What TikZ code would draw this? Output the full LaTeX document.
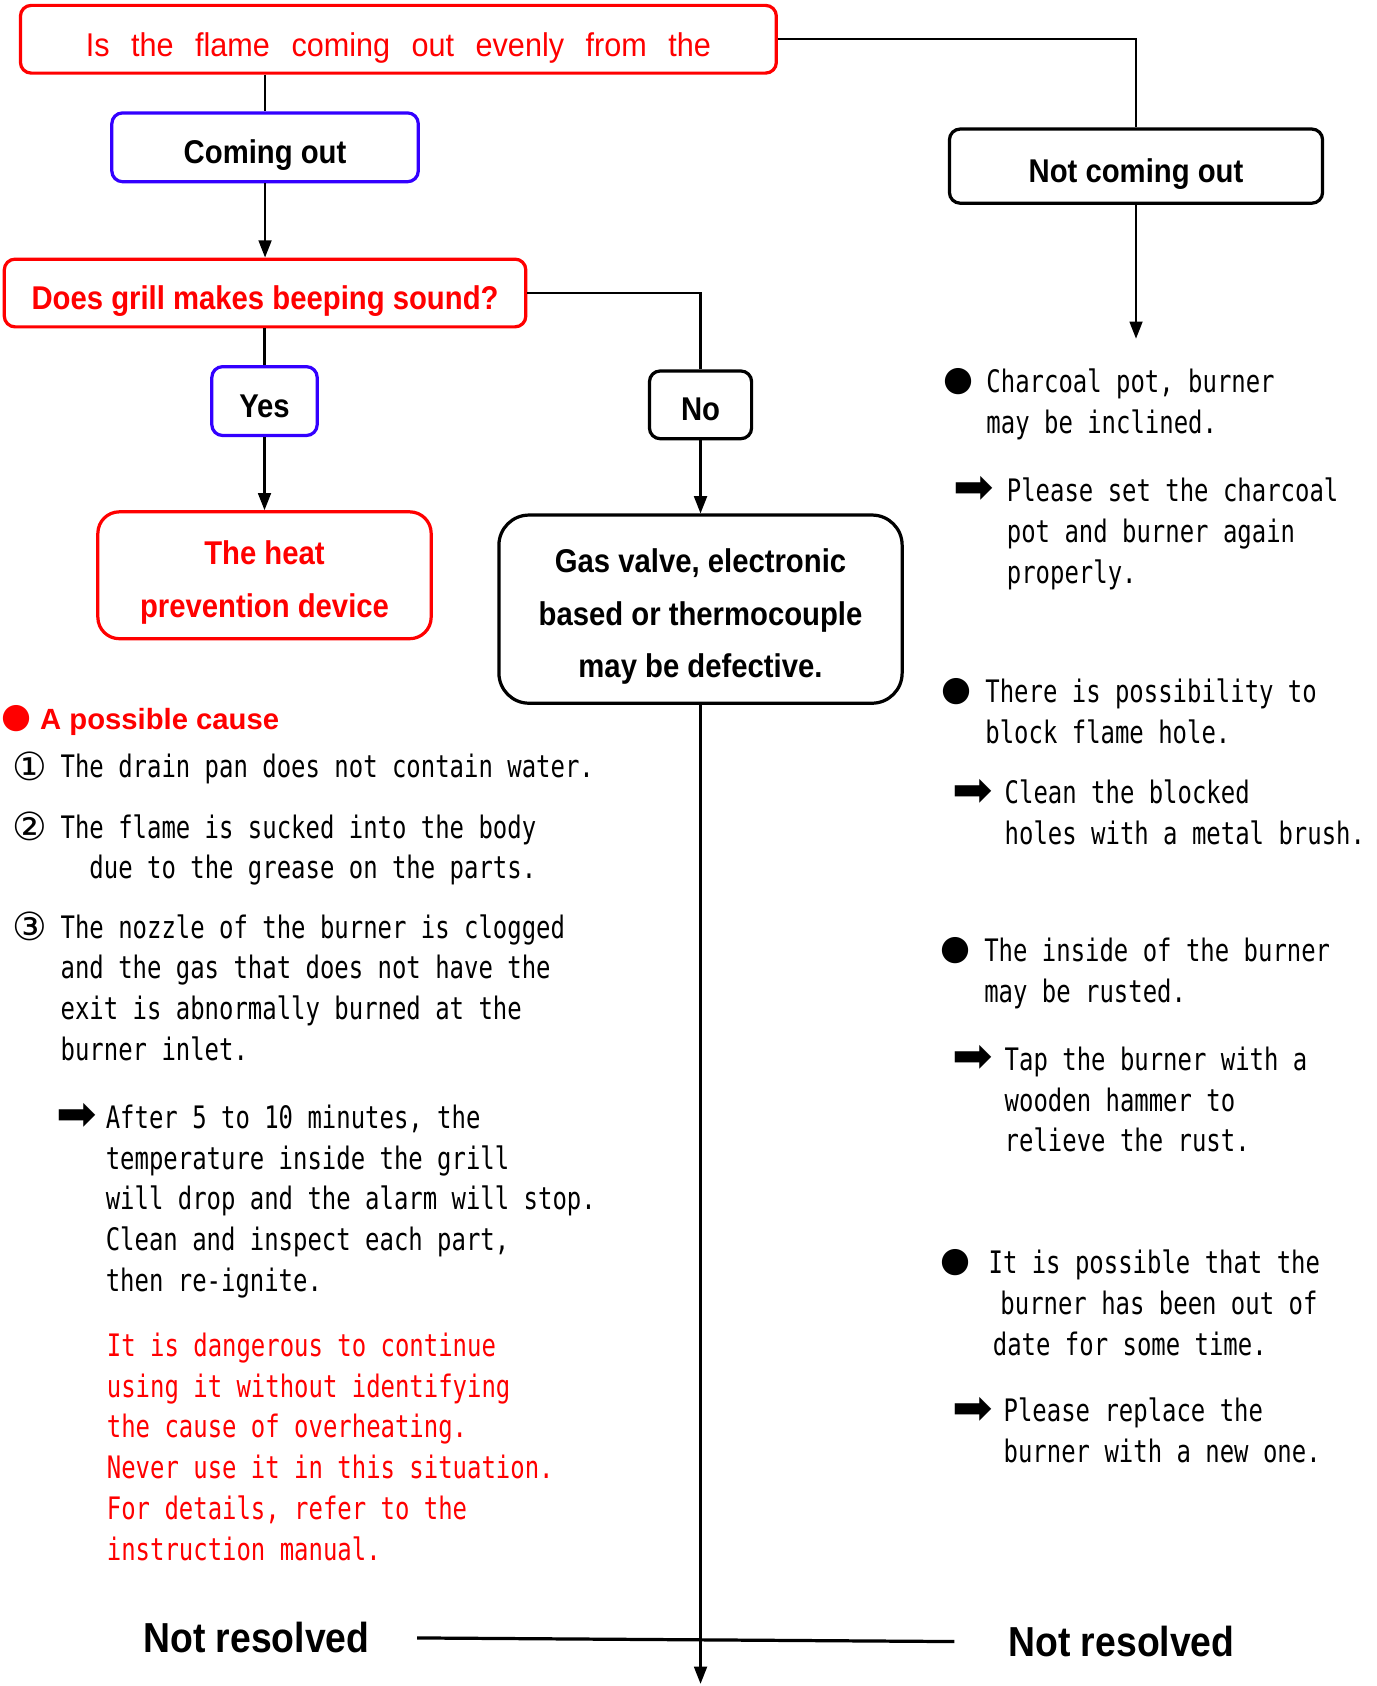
\documentclass[tikz,border=0pt]{standalone}
\usepackage{fontspec}
\setmainfont{Liberation Sans}
\newfontfamily\headfont[FakeStretch=0.89]{Liberation Sans}
\newfontfamily\titlefont[FakeStretch=0.93]{Liberation Sans}
\newfontfamily\gothic[FakeStretch=0.773]{DejaVu Sans Mono}
\newfontfamily\symfont{DejaVu Sans}
\usetikzlibrary{arrows.meta}
\definecolor{flowred}{RGB}{255,0,0}
\definecolor{flowblue}{RGB}{51,0,255}

\tikzset{
  box/.style={draw, line width=1.5pt, rounded corners=5pt, inner sep=0pt, align=center,
    font=\headfont\bfseries\fontsize{15.3}{24.5}\selectfont},
  oneline/.style={text height=15pt, text depth=0pt},
  redbox/.style={box, draw=flowred, text=flowred},
  bluebox/.style={box, draw=flowblue},
  blackbox/.style={box, draw=black},
  link/.style={line width=1pt},
  arrowlink/.style={link, -{Triangle[width=6pt,length=8pt]}},
  note/.style={anchor=north west, inner sep=0pt, align=left,
    font=\gothic\fontsize{14.4}{19}\selectfont},
  rednote/.style={note, text=flowred},
  dot/.style={inner sep=0pt, font=\symfont\fontsize{16}{16}\selectfont},
  numeral/.style={inner sep=0pt, font=\symfont\fontsize{18}{18}\selectfont},
  pointer/.style={inner sep=0pt, font=\symfont\fontsize{22.5}{22}\selectfont},
  verdict/.style={inner sep=0pt, font=\headfont\bfseries\fontsize{19.5}{20}\selectfont},
}

\begin{document}
\begin{tikzpicture}[x=0.5pt,y=-0.5pt]
    \useasboundingbox (0,0) rectangle (1280,1568);

    % Question boxes and answers
    \node[redbox, font=\titlefont\fontsize{15.3}{20}\selectfont, text height=16.5pt, text depth=0pt,
      minimum width=351.5pt, minimum height=31.5pt]
      (title) at (370.5,36.5) {\spaceskip=10pt Is the flame coming out evenly from the};
    \node[bluebox, oneline, minimum width=142.5pt, minimum height=32pt] (coming) at (246.5,137) {Coming out};
    \node[redbox, oneline, minimum width=242.5pt, minimum height=31.5pt] (beep) at (246.5,272.5) {Does grill makes beeping sound?};
    \node[bluebox, oneline, minimum width=49pt, minimum height=32pt] (yes) at (246,373) {Yes};
    \node[redbox, rounded corners=10pt, minimum width=155pt, minimum height=59pt] (heat) at (246,535)
      {\rule{0pt}{18pt}The heat\\prevention device};
    \node[blackbox, oneline, minimum width=47.5pt, minimum height=31.5pt] (no) at (651.5,376.5) {No};
    \node[blackbox, rounded corners=14pt, minimum width=187.5pt, minimum height=87.5pt] (gas) at (651.5,566.5)
      {\rule{0pt}{18pt}Gas valve, electronic\\based or thermocouple\\may be defective.};
    \node[blackbox, oneline, minimum width=173.5pt, minimum height=34.5pt] (notout) at (1056.5,154.5) {Not coming out};

    % Free ends of the arrows
    \coordinate (rightend) at (1056.5,315);
    \coordinate (bottomend) at (651.5,1566);

    % Connectors
    \draw[link] (coming.north |- title.south) -- (coming.north);
    \draw[arrowlink] (coming.south) -- (coming.south |- beep.north);
    \draw[link] (title.east) -| (notout.north);
    \draw[link] (yes.north |- beep.south) -- (yes.north);
    \draw[arrowlink] (yes.south) -- (yes.south |- heat.north);
    \draw[link] (beep.east) -| (no.north);
    \draw[arrowlink] (no.south) -- (gas.north);
    \draw[arrowlink] (notout.south) -- (rightend);
    \draw[arrowlink] (gas.south) -- (bottomend);

    % Right column: causes and remedies
    \node[dot] (b1) at (891,355) {●};
    \node[note] (c1) at (917,343) {Charcoal pot, burner\\may be inclined.};
    \node[pointer] (p1) at (906,456) {➡};
    \node[note] (f1) at (936,444) {Please set the charcoal\\pot and burner again\\properly.};

    \node[dot] (b2) at (890,643) {●};
    \node[note] (c2) at (916,631) {There is possibility to\\block flame hole.};
    \node[pointer] (p2) at (905,737) {➡};
    \node[note] (f2) at (934,725) {Clean the blocked\\holes with a metal brush.};

    \node[dot] (b3) at (889,884) {●};
    \node[note] (c3) at (915,872) {The inside of the burner\\may be rusted.};
    \node[pointer] (p3) at (905,985) {➡};
    \node[note] (f3) at (934,973) {Tap the burner with a\\wooden hammer to\\relieve the rust.};

    \node[dot] (b4) at (889,1174) {●};
    \node[note] (c4) at (919,1162) {It is possible that the\\\hspace*{5.5pt}burner has been out of\\\hspace*{2pt}date for some time.};
    \node[pointer] (p4) at (905,1312) {➡};
    \node[note] (f4) at (933,1300) {Please replace the\\burner with a new one.};

    % Left column: possible cause
    \node[dot, text=flowred] (b0) at (15,668) {●};
    \node[anchor=west, inner sep=0pt, text=flowred, font=\bfseries\fontsize{13.6}{16}\selectfont] (cause) at (37,671) {A possible cause};
    \node[numeral] (n1) at (28,713) {①};
    \node[note] (l1) at (56,701) {The drain pan does not contain water.};
    \node[numeral] (n2) at (28,769) {②};
    \node[note] (l2) at (56,757) {The flame is sucked into the body\\\phantom{xx}due to the grease on the parts.};
    \node[numeral] (n3) at (28,862) {③};
    \node[note] (l3) at (56,850) {The nozzle of the burner is clogged\\and the gas that does not have the\\exit is abnormally burned at the\\burner inlet.};
    \node[pointer] (p0) at (71,1039) {➡};
    \node[note] (l4) at (98,1027) {After 5 to 10 minutes, the\\temperature inside the grill\\will drop and the alarm will stop.\\Clean and inspect each part,\\then re-ignite.};
    \node[rednote] (warn) at (99,1239) {It is dangerous to continue\\using it without identifying\\the cause of overheating.\\Never use it in this situation.\\For details, refer to the\\instruction manual.};

    % Bottom line
    \node[verdict] (nr1) at (238.5,1523) {Not resolved};
    \node[verdict] (nr2) at (1043,1527) {Not resolved};
    \draw[line width=1.5pt, shorten <=22pt, shorten >=25pt] (nr1.east) -- (nr2.west);
\end{tikzpicture}
\end{document}
